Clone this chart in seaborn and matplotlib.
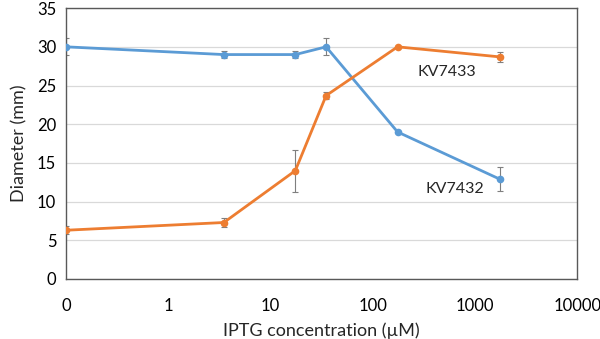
import numpy as np
import pandas as pd
import matplotlib
matplotlib.use("Agg")
import matplotlib.pyplot as plt
import seaborn as sns

# Data (x=0 plotted at 0.1 on the log axis, labelled "0")
conc = [0.1, 3.5, 17.5, 35, 175, 1750]
kv7432 = [30.0, 29.0, 29.0, 30.0, 19.0, 12.9]
kv7432_err = [1.1, 0.5, 0.5, 1.1, 0.0, 1.55]
kv7433 = [6.3, 7.3, 14.0, 23.7, 30.0, 28.7]
kv7433_err = [0.5, 0.6, 2.7, 0.5, 0.0, 0.6]
xticks = [0.1, 1, 10, 100, 1000, 10000]
xtick_labels = ["0", "1", "10", "100", "1000", "10000"]
yticks = [0, 5, 10, 15, 20, 25, 30, 35]

sns.set_theme(style="white")
plt.rcParams['font.family'] = ['Lato', 'DejaVu Sans']

df = pd.DataFrame({
    "conc": conc * 2,
    "diam": kv7432 + kv7433,
    "strain": ["KV7432"] * len(conc) + ["KV7433"] * len(conc),
})
palette = {"KV7432": "#5B9BD5", "KV7433": "#ED7D31"}

fig = plt.figure(figsize=(6.0, 3.39), dpi=100)
ax = fig.add_axes([0.11, 0.177, 0.852, 0.799])

ax.set_xscale("log")
for name, vals, errs in [("KV7432", kv7432, kv7432_err), ("KV7433", kv7433, kv7433_err)]:
    ax.errorbar(conc, vals, yerr=errs, fmt="none", ecolor="#7f7f7f",
                elinewidth=0.8, capsize=2.5, capthick=0.8, zorder=2)

sns.lineplot(data=df, x="conc", y="diam", hue="strain", palette=palette,
             marker="o", markersize=5.5, markeredgewidth=0, linewidth=2.0,
             legend=False, ax=ax, zorder=3)

ax.set_xlim(0.1, 10000)
ax.set_ylim(0, 35)
ax.set_xticks(xticks)
ax.set_xticklabels(xtick_labels)
ax.xaxis.set_minor_locator(matplotlib.ticker.NullLocator())
ax.set_yticks(yticks)
ax.yaxis.grid(True, color="#d9d9d9", linewidth=0.9)
ax.xaxis.grid(False)
for s in ax.spines.values():
    s.set_color("#595959")
    s.set_linewidth(1.0)
ax.tick_params(axis="both", labelsize=12, colors="#000000", length=0, pad=7)
ax.tick_params(axis="x", pad=14)

ax.set_xlabel("IPTG concentration (µM)", fontsize=13, labelpad=6)
ax.set_ylabel("Diameter (mm)", fontsize=13, labelpad=7)

ax.text(525, 26.7, "KV7433", fontsize=11.5, ha="center", va="center")
ax.text(640, 11.6, "KV7432", fontsize=11.5, ha="center", va="center")

fig.savefig("out.png", dpi=100)
